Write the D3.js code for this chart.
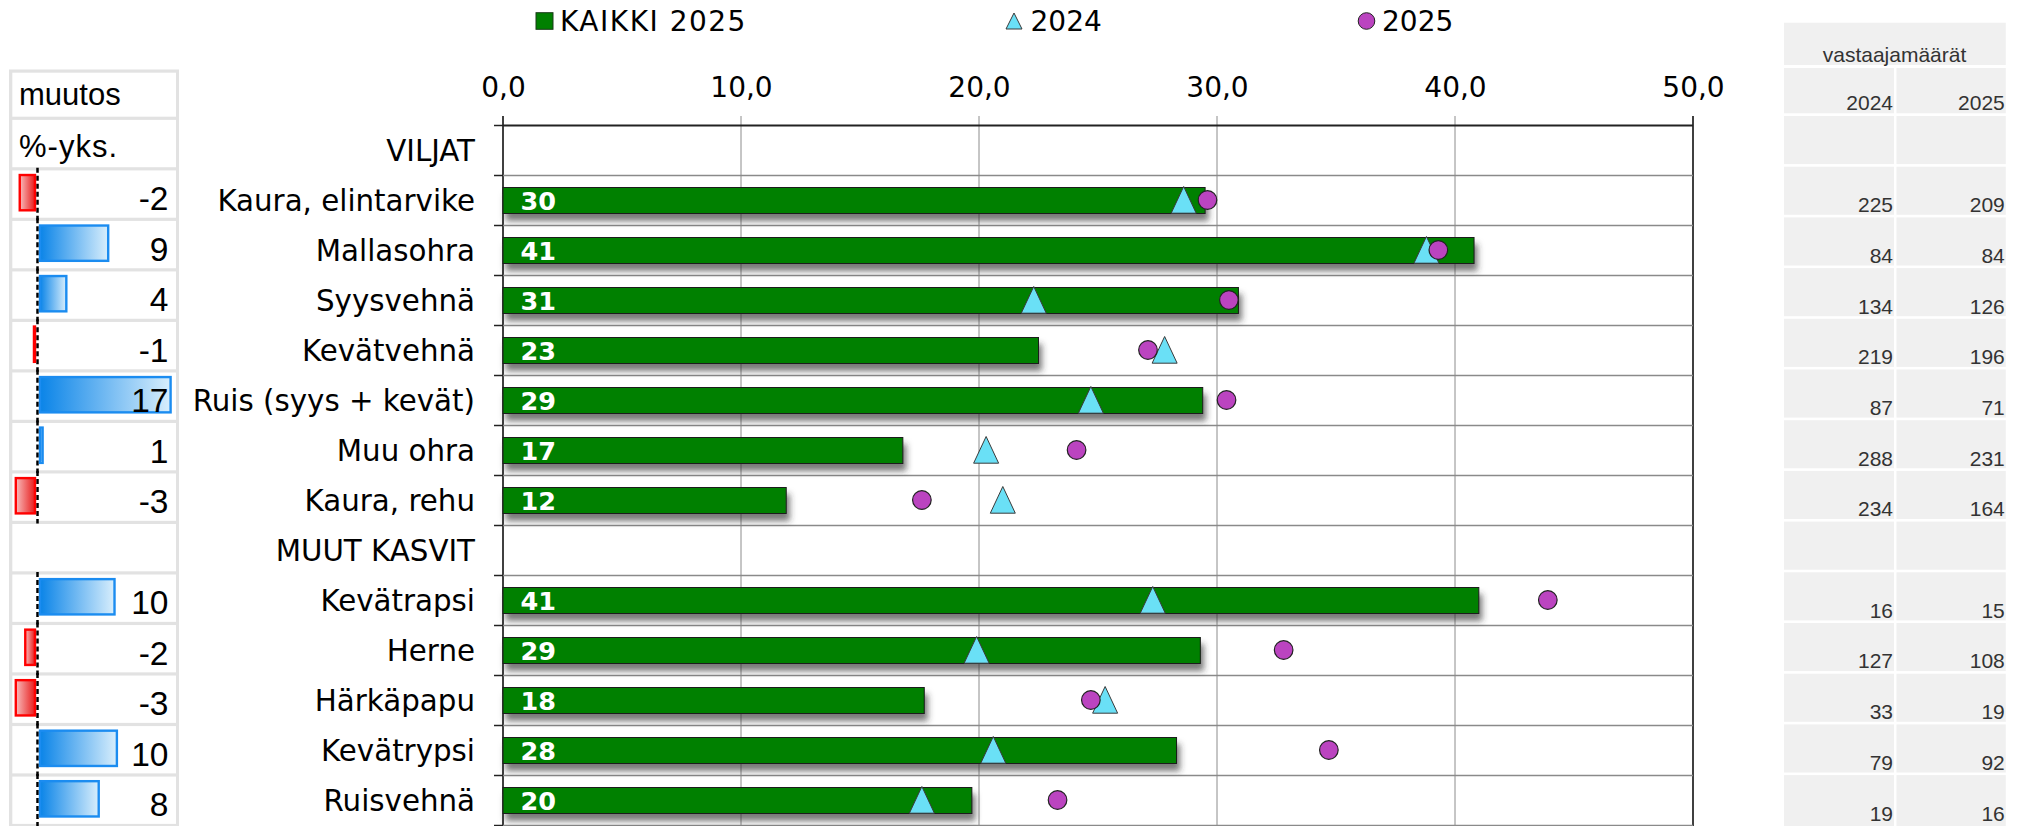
<!DOCTYPE html>
<html>
<head>
<meta charset="utf-8">
<script src="https://cdn.jsdelivr.net/npm/d3@7"></script>
<style>
  body { margin: 0; background: #fff; }
</style>
</head>
<body>
<div id="chart"></div>
<script>
const width = 2026;
const height = 826;

// chart data
const categories = ["VILJAT", "Kaura, elintarvike", "Mallasohra", "Syysvehnä", "Kevätvehnä",
    "Ruis (syys + kevät)", "Muu ohra", "Kaura, rehu", "MUUT KASVIT", "Kevätrapsi",
    "Herne", "Härkäpapu", "Kevätrypsi", "Ruisvehnä"];
const kaikki2025 = [null, 29.5, 40.8, 30.9, 22.5, 29.4, 16.8, 11.9, null, 41.0, 29.3, 17.7, 28.3, 19.7];
const v2024 = [null, 28.6, 38.8, 22.3, 27.8, 24.7, 20.3, 21.0, null, 27.3, 19.9, 25.3, 20.6, 17.6];
const v2025 = [null, 29.6, 39.3, 30.5, 27.1, 30.4, 24.1, 17.6, null, 43.9, 32.8, 24.7, 34.7, 23.3];
const muutos = [null, -2.4, 9.1, 3.8, -0.6, 17, 0.8, -2.9, null, 9.9, -1.7, -2.9, 10.2, 7.9];
const n2024 = [null, 225, 84, 134, 219, 87, 288, 234, null, 16, 127, 33, 79, 19];
const n2025 = [null, 209, 84, 126, 196, 71, 231, 164, null, 15, 108, 19, 92, 16];
const xTicks = [0, 10, 20, 30, 40, 50];
const legendLabels = ["KAIKKI 2025", "2024", "2025"];
const leftHeaders = ["muutos", "%-yks."];
const rightHeader = "vastaajamäärät";
const yearHeaders = ["2024", "2025"];

const rows = categories.map((c, i) => ({
    cat: c, i: i, bar: kaikki2025[i], a: v2024[i], b: v2025[i],
    ch: muutos[i], n1: n2024[i], n2: n2025[i]
}));

const svg = d3.select("#chart")
    .append("svg")
    .attr("width", width)
    .attr("height", height);

const defs = svg.append("defs");

const shadow = defs.append("filter")
    .attr("id", "shadow")
    .attr("x", "-5%").attr("y", "-20%")
    .attr("width", "115%").attr("height", "200%");
shadow.append("feDropShadow")
    .attr("dx", 3).attr("dy", 7)
    .attr("stdDeviation", 3)
    .attr("flood-color", "#333")
    .attr("flood-opacity", 0.65);

const gBlue = defs.append("linearGradient").attr("id", "gradBlue");
gBlue.append("stop").attr("offset", "0%").attr("stop-color", "#0a84e8");
gBlue.append("stop").attr("offset", "100%").attr("stop-color", "#d8eefc");
const gRed = defs.append("linearGradient").attr("id", "gradRed");
gRed.append("stop").attr("offset", "0%").attr("stop-color", "#f8bcbc");
gRed.append("stop").attr("offset", "100%").attr("stop-color", "#e81c1c");

const sansV = "DejaVu Sans, Verdana, sans-serif";
const sansA = "Liberation Sans, Arial, sans-serif";

// ---------- main chart ----------
const x = d3.scaleLinear().domain([0, 50]).range([503, 1693]);
const y = d3.scaleBand().domain(categories).range([125.5, 825.5]);
const mid = d => y(d.cat) + y.bandwidth() / 2;

const chart = svg.append("g");

// vertical grid lines (also the small ticks above the top line)
chart.selectAll(".grid")
    .data(xTicks)
    .join("line")
    .attr("x1", d => x(d)).attr("x2", d => x(d))
    .attr("y1", 116).attr("y2", 826)
    .attr("stroke", d => (d === 0 || d === 50) ? "#000" : "#8c8c8c")
    .attr("stroke-width", d => (d === 0 || d === 50) ? 1.5 : 1);

// row separators
const bounds = d3.range(categories.length + 1).map(k => y.range()[0] + k * y.step());
chart.selectAll(".rowline")
    .data(bounds)
    .join("line")
    .attr("x1", x(0)).attr("x2", x(50))
    .attr("y1", d => d).attr("y2", d => d)
    .attr("stroke", (d, k) => k === 0 ? "#222" : "#8a8a8a")
    .attr("stroke-width", (d, k) => k === 0 ? 2 : 1.5);
chart.selectAll(".rowtick")
    .data(bounds)
    .join("line")
    .attr("x1", x(0) - 9).attr("x2", x(0))
    .attr("y1", d => d).attr("y2", d => d)
    .attr("stroke", "#222")
    .attr("stroke-width", 1.5);

// top axis labels
const axis = d3.axisTop(x)
    .tickValues(xTicks)
    .tickSize(0)
    .tickPadding(28.5)
    .tickFormat(d => d3.format(".1f")(d).replace(".", ","));
chart.append("g")
    .attr("transform", "translate(0,125.5)")
    .call(axis)
    .call(g => g.select(".domain").remove())
    .selectAll("text")
    .attr("font-family", sansV)
    .attr("font-size", 28)
    .attr("fill", "#000");

// bars
const barRows = rows.filter(r => r.bar != null);
chart.selectAll(".bar")
    .data(barRows)
    .join("rect")
    .attr("x", x(0))
    .attr("y", d => mid(d) - 13)
    .attr("width", d => x(d.bar) - x(0))
    .attr("height", 26)
    .attr("fill", "#008000")
    .attr("stroke", "#1a1a1a")
    .attr("stroke-width", 1)
    .attr("filter", "url(#shadow)");

chart.selectAll(".barlabel")
    .data(barRows)
    .join("text")
    .attr("x", x(0) + 17.5)
    .attr("y", d => mid(d) + 9.5)
    .attr("font-family", sansV)
    .attr("font-weight", "bold")
    .attr("font-size", 25.5)
    .attr("fill", "#fff")
    .text(d => Math.round(d.bar));

// 2024 triangles
chart.selectAll(".tri")
    .data(barRows)
    .join("path")
    .attr("d", d => {
        const cx = x(d.a), c = mid(d);
        return `M${cx},${c - 14} L${cx + 12.5},${c + 12.7} L${cx - 12.5},${c + 12.7} Z`;
    })
    .attr("fill", "#6ae0f6")
    .attr("stroke", "#3a3a3a")
    .attr("stroke-width", 1);

// 2025 circles
chart.selectAll(".dot")
    .data(barRows)
    .join("circle")
    .attr("cx", d => x(d.b))
    .attr("cy", d => mid(d) - 0.5)
    .attr("r", 9.3)
    .attr("fill", "#bb44c0")
    .attr("stroke", "#222")
    .attr("stroke-width", 1.2);

// category labels
chart.selectAll(".cat")
    .data(rows)
    .join("text")
    .attr("x", 475)
    .attr("y", d => mid(d) + 10.5)
    .attr("text-anchor", "end")
    .attr("font-family", sansV)
    .attr("font-size", 29.3)
    .attr("fill", "#000")
    .text(d => d.cat);

// legend
const legend = svg.append("g");
legend.append("rect")
    .attr("x", 536).attr("y", 12.7).attr("width", 17).attr("height", 16.6)
    .attr("fill", "#008000").attr("stroke", "#1a3a1a");
legend.append("path")
    .attr("d", "M1014,13 L1022,29 L1006,29 Z")
    .attr("fill", "#6ae0f6").attr("stroke", "#3a3a3a");
legend.append("circle")
    .attr("cx", 1366.5).attr("cy", 21).attr("r", 8.3)
    .attr("fill", "#bb44c0").attr("stroke", "#222");
legend.selectAll("text")
    .data(legendLabels)
    .join("text")
    .attr("x", (d, i) => [560, 1030.5, 1382][i])
    .attr("y", 30.7)
    .attr("font-family", sansV)
    .attr("font-size", 28)
    .attr("letter-spacing", (d, i) => i === 0 ? 1.5 : 0)
    .attr("fill", "#000")
    .text(d => d);

// ---------- left table: muutos %-yks. ----------
const left = svg.append("g");
const ly = d3.scaleBand().domain(d3.range(14)).range([118.3, 825.5]);
const cx = d3.scaleLinear().domain([0, 10]).range([37.5, 116.5]);

left.append("rect")
    .attr("x", 9).attr("y", 69.5).attr("width", 170).attr("height", 758)
    .attr("fill", "#e2e2e2");
left.append("rect")
    .attr("x", 12.3).attr("y", 72.7).attr("width", 163.7).attr("height", 44)
    .attr("fill", "#fff");
left.selectAll(".cell")
    .data(d3.range(14))
    .join("rect")
    .attr("x", 12.3).attr("width", 163.7)
    .attr("y", k => ly(k) + 1.6)
    .attr("height", ly.step() - 3.2)
    .attr("fill", "#fff");

left.append("text")
    .attr("x", 19).attr("y", 105)
    .attr("font-family", sansA).attr("font-size", 31)
    .text(leftHeaders[0]);
left.append("text")
    .attr("x", 19).attr("y", 156.7)
    .attr("font-family", sansA).attr("font-size", 31)
    .attr("letter-spacing", 1)
    .text(leftHeaders[1]);

// left rows start after the "%-yks." row, so category i sits at ly(i)
const chRows = rows.filter(r => r.ch != null);
left.selectAll(".zero")
    .data(chRows)
    .join("line")
    .attr("x1", cx(0)).attr("x2", cx(0))
    .attr("y1", d => ly(d.i) - 1)
    .attr("y2", d => ly(d.i) + ly.step() + 1)
    .attr("stroke", "#000")
    .attr("stroke-width", 2.5)
    .attr("stroke-dasharray", "5,3");

left.selectAll(".chbar")
    .data(chRows)
    .join("rect")
    .attr("x", d => d.ch >= 0 ? cx(0) + 2.5 : cx(d.ch) + 1.2)
    .attr("width", d => Math.max(0.5, Math.abs(cx(d.ch) - cx(0)) - 3.7))
    .attr("y", d => ly(d.i) + 6.2)
    .attr("height", 35.3)
    .attr("fill", d => d.ch >= 0 ? "url(#gradBlue)" : "url(#gradRed)")
    .attr("stroke", d => d.ch >= 0 ? "#1b8cf0" : "#ff0000")
    .attr("stroke-width", 2.4);

left.selectAll(".chlabel")
    .data(chRows)
    .join("text")
    .attr("x", 168.5)
    .attr("y", d => ly(d.i) + 41.5)
    .attr("text-anchor", "end")
    .attr("font-family", sansA)
    .attr("font-size", 33.5)
    .attr("fill", "#000")
    .text(d => Math.round(d.ch));

// ---------- right table: vastaajamäärät ----------
const right = svg.append("g");
const ry = d3.scaleBand().domain(d3.range(14)).range([114.7, 114.7 + 14 * 50.7]);
const colX = [1784, 1896.5];
const colW = [110, 109.3];

right.append("rect")
    .attr("x", 1784).attr("y", 22.7).attr("width", 221.8).attr("height", 42.3)
    .attr("fill", "#f0f0f0");
right.append("text")
    .attr("x", 1894.5).attr("y", 61.7)
    .attr("text-anchor", "middle")
    .attr("font-family", sansA).attr("font-size", 21).attr("fill", "#333")
    .text(rightHeader);

right.selectAll(".yearcell")
    .data(yearHeaders)
    .join("rect")
    .attr("x", (d, j) => colX[j]).attr("width", (d, j) => colW[j])
    .attr("y", 68).attr("height", 45.3)
    .attr("fill", "#f0f0f0");
right.selectAll(".yeartext")
    .data(yearHeaders)
    .join("text")
    .attr("x", (d, j) => colX[j] + colW[j] - 1)
    .attr("y", 110)
    .attr("text-anchor", "end")
    .attr("font-family", sansA).attr("font-size", 21).attr("fill", "#333")
    .text(d => d);

const cells = [];
rows.forEach(r => {
    cells.push({ i: r.i, j: 0, v: r.n1 });
    cells.push({ i: r.i, j: 1, v: r.n2 });
});
right.selectAll(".ncell")
    .data(cells)
    .join("rect")
    .attr("x", d => colX[d.j]).attr("width", d => colW[d.j])
    .attr("y", d => ry(d.i) + 1.3)
    .attr("height", d => d.i === 13 ? height - ry(d.i) : ry.step() - 2.6)
    .attr("fill", "#f0f0f0");
right.selectAll(".ntext")
    .data(cells.filter(d => d.v != null))
    .join("text")
    .attr("x", d => colX[d.j] + colW[d.j] - 1)
    .attr("y", d => ry(d.i) + ry.step() - 4)
    .attr("text-anchor", "end")
    .attr("font-family", sansA).attr("font-size", 21).attr("fill", "#333")
    .text(d => d.v);
</script>
</body>
</html>
